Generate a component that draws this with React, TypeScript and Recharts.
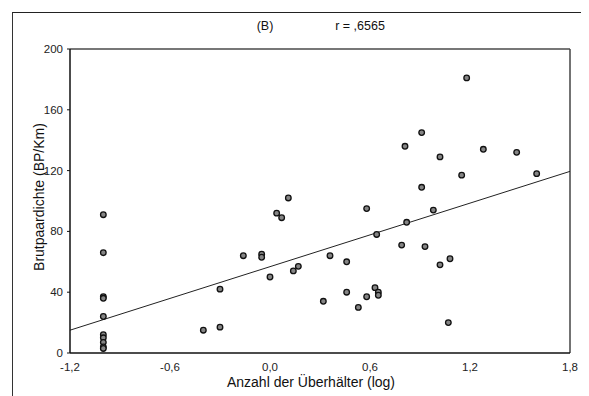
import React from "react";
import { ScatterChart, Scatter, XAxis, YAxis, ReferenceLine } from "recharts";

const xValues = [
  -1.0, -1.0, -1.0, -1.0, -1.0, -1.0, -1.0, -1.0, -1.0, -1.0,
  -0.4, -0.3, -0.3, -0.16, -0.05, -0.05, 0.0, 0.04, 0.07, 0.11,
  0.14, 0.17, 0.32, 0.36, 0.46, 0.46, 0.53, 0.58, 0.58, 0.63,
  0.64, 0.65, 0.65, 0.79, 0.81, 0.82, 0.91, 0.91, 0.93, 0.98,
  1.02, 1.02, 1.07, 1.08, 1.15, 1.18, 1.28, 1.48, 1.6,
];
const yValues = [
  91, 66, 37, 36, 24, 12, 10, 7, 4, 3,
  15, 17, 42, 64, 65, 63, 50, 92, 89, 102,
  54, 57, 34, 64, 60, 40, 30, 95, 37, 43,
  78, 40, 38, 71, 136, 86, 145, 109, 70, 94,
  129, 58, 20, 62, 117, 181, 134, 132, 118,
];
const xTicks = [-1.2, -0.6, 0.0, 0.6, 1.2, 1.8];
const yTicks = [0, 40, 80, 120, 160, 200];
const regX = [-1.2, 1.8];
const regY = [15, 119.5];
const titleLeft = "(B)";
const titleRight = "r = ,6565";
const xLabel = "Anzahl der Überhälter (log)";
const yLabel = "Brutpaardichte (BP/Km)";

const points = xValues.map((x, i) => ({ x, y: yValues[i] }));
const fmt = (v: number) => v.toFixed(1).replace(".", ",");
const font = "'Liberation Sans', Arial, sans-serif";

const Dot = (props: any) => {
  const { cx, cy } = props;
  if (cx == null || cy == null) return null;
  return <circle cx={cx} cy={cy} r={2.8} fill="#858585" stroke="#111" strokeWidth={1.3} />;
};

export default function App() {
  return (
    <div style={{ position: "relative", width: 581, height: 388, fontFamily: font, color: "#111" }}>
      <div
        style={{
          position: "absolute",
          left: 4,
          top: 4,
          width: 577,
          height: 384,
          borderLeft: "1.5px solid #333",
          borderTop: "1.5px solid #222",
          boxSizing: "border-box",
        }}
      />
      <div style={{ position: "absolute", left: 257, top: 18, transform: "translate(-50%,-50%)", fontSize: 12.5, whiteSpace: "nowrap" }}>
        {titleLeft}
      </div>
      <div style={{ position: "absolute", left: 352, top: 18, transform: "translate(-50%,-50%)", fontSize: 12.5, whiteSpace: "nowrap" }}>
        {titleRight}
      </div>
      <div style={{ position: "absolute", left: 303, top: 374, transform: "translate(-50%,-50%)", fontSize: 14, whiteSpace: "nowrap" }}>
        {xLabel}
      </div>
      <div
        style={{
          position: "absolute",
          left: 31,
          top: 189,
          transform: "translate(-50%,-50%) rotate(-90deg)",
          fontSize: 14,
          whiteSpace: "nowrap",
        }}
      >
        {yLabel}
      </div>
      <ScatterChart width={581} height={388} margin={{ top: 41, right: 19, bottom: 13, left: 10 }}>
        <XAxis
          type="number"
          dataKey="x"
          domain={[xTicks[0], xTicks[xTicks.length - 1]]}
          ticks={xTicks}
          tickFormatter={fmt}
          height={30}
          axisLine={{ stroke: "#111", strokeWidth: 1.5 }}
          tickLine={false}
          tickMargin={4}
          tick={{ fontSize: 11.5, fill: "#222", fontFamily: font }}
          allowDataOverflow
        />
        <YAxis
          type="number"
          dataKey="y"
          domain={[yTicks[0], yTicks[yTicks.length - 1]]}
          ticks={yTicks}
          width={52}
          axisLine={{ stroke: "#111", strokeWidth: 1.5 }}
          tickLine={{ stroke: "#111" }}
          tickSize={3}
          tickMargin={4}
          tick={{ fontSize: 11.5, fill: "#222", fontFamily: font }}
          allowDataOverflow
        />
        <ReferenceLine y={yTicks[yTicks.length - 1]} stroke="#777" strokeWidth={2} />
        <ReferenceLine x={xTicks[xTicks.length - 1]} stroke="#444" strokeWidth={1.5} />
        <ReferenceLine
          segment={[
            { x: regX[0], y: regY[0] },
            { x: regX[1], y: regY[1] },
          ]}
          stroke="#222"
          strokeWidth={1}
        />
        <Scatter data={points} shape={<Dot />} isAnimationActive={false} />
      </ScatterChart>
    </div>
  );
}
